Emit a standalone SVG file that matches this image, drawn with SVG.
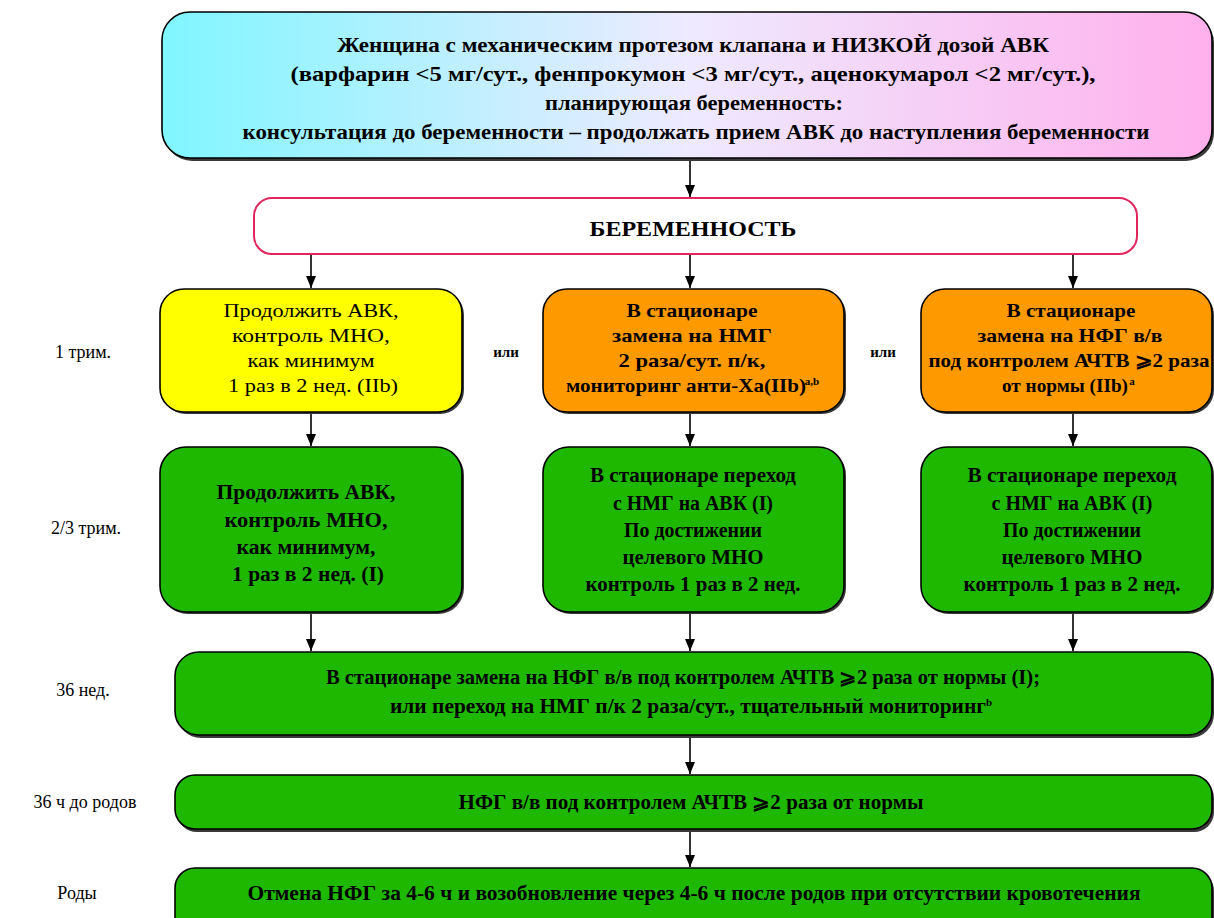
<svg xmlns="http://www.w3.org/2000/svg" width="1214" height="918" viewBox="0 0 1214 918">
<defs>
<linearGradient id="gTop" x1="0" y1="0" x2="1" y2="0">
<stop offset="0" stop-color="#7ff6ff"/>
<stop offset="0.5" stop-color="#eeeaff"/>
<stop offset="1" stop-color="#ffb0ec"/>
</linearGradient>
<marker id="arr" markerWidth="12" markerHeight="10" refX="12" refY="5" orient="auto" markerUnits="userSpaceOnUse" viewBox="0 0 12 10">
<path d="M0,0 L12,5 L0,10 Z" fill="#000"/>
</marker>
</defs>
<style>
.t{font-family:"Liberation Serif","Times New Roman",serif;fill:#000;text-anchor:middle}
.b{font-weight:bold}
.box{stroke:#000;stroke-width:1.6}
.sh{fill:#3a3a3a}
.lbl{font-family:"Liberation Serif","Times New Roman",serif;font-size:18px;fill:#000;text-anchor:middle}
.con{stroke:#000;stroke-width:1.6;fill:none;marker-end:url(#arr)}
.sup{font-size:11px}
</style>
<rect width="1214" height="918" fill="#fff"/>

<g id="labels">
<text class="lbl" x="83" y="358">1 трим.</text>
<text class="lbl" x="86" y="534">2/3 трим.</text>
<text class="lbl" x="83" y="696">36 нед.</text>
<text class="lbl" x="85" y="808">36 ч до родов</text>
<text class="lbl" x="77" y="899">Роды</text>
<text class="t b" x="506" y="357" font-size="15">или</text>
<text class="t b" x="883" y="357" font-size="15">или</text>
</g>

<g id="connectors">
<line class="con" x1="690" y1="158" x2="690" y2="197"/>
<line class="con" x1="311" y1="255" x2="311" y2="288"/>
<line class="con" x1="690" y1="255" x2="690" y2="288"/>
<line class="con" x1="1073" y1="255" x2="1073" y2="288"/>
<line class="con" x1="311" y1="413" x2="311" y2="446"/>
<line class="con" x1="690" y1="413" x2="690" y2="446"/>
<line class="con" x1="1073" y1="413" x2="1073" y2="446"/>
<line class="con" x1="311" y1="613" x2="311" y2="651"/>
<line class="con" x1="690" y1="613" x2="690" y2="651"/>
<line class="con" x1="1073" y1="613" x2="1073" y2="651"/>
<line class="con" x1="690" y1="736" x2="690" y2="774"/>
<line class="con" x1="690" y1="830" x2="690" y2="867"/>
</g>

<g id="n-top">
<rect class="sh" x="164" y="15" width="1050" height="146" rx="28"/>
<rect class="box" x="162" y="12" width="1050" height="146" rx="28" fill="url(#gTop)"/>
<text class="t b" font-size="21" x="693" y="52" textLength="712" lengthAdjust="spacingAndGlyphs">Женщина с механическим протезом клапана и НИЗКОЙ дозой АВК</text>
<text class="t b" font-size="21" x="693" y="81" textLength="805" lengthAdjust="spacingAndGlyphs">(варфарин &lt;5 мг/сут., фенпрокумон &lt;3 мг/сут., аценокумарол &lt;2 мг/сут.),</text>
<text class="t b" font-size="21" x="694" y="110" textLength="298" lengthAdjust="spacingAndGlyphs">планирующая беременность:</text>
<text class="t b" font-size="21" x="696" y="139" textLength="907" lengthAdjust="spacingAndGlyphs">консультация до беременности – продолжать прием АВК до наступления беременности</text>
</g>

<g id="n-preg">
<rect x="254" y="198" width="883" height="56" rx="18" fill="#fff" stroke="#e2245a" stroke-width="2"/>
<text class="t b" font-size="21" x="693" y="236" textLength="207" lengthAdjust="spacingAndGlyphs">БЕРЕМЕННОСТЬ</text>
</g>

<g id="n-y1">
<rect class="sh" x="162" y="291" width="302" height="123" rx="24"/>
<rect class="box" x="160" y="289" width="302" height="123" rx="24" fill="#ffff00"/>
<text class="t" font-size="19" x="311" y="317" textLength="175" lengthAdjust="spacingAndGlyphs">Продолжить АВК,</text>
<text class="t" font-size="19" x="311" y="342" textLength="158" lengthAdjust="spacingAndGlyphs">контроль МНО,</text>
<text class="t" font-size="19" x="311" y="367" textLength="127" lengthAdjust="spacingAndGlyphs">как минимум</text>
<text class="t" font-size="19" x="313" y="392" textLength="170" lengthAdjust="spacingAndGlyphs">1 раз в 2 нед. (IIb)</text>
</g>

<g id="n-o1">
<rect class="sh" x="545" y="291" width="301" height="123" rx="24"/>
<rect class="box" x="543" y="289" width="301" height="123" rx="24" fill="#ff9900"/>
<text class="t b" font-size="19" x="692" y="317" textLength="131" lengthAdjust="spacingAndGlyphs">В стационаре</text>
<text class="t b" font-size="19" x="692" y="342" textLength="160" lengthAdjust="spacingAndGlyphs">замена на НМГ</text>
<text class="t b" font-size="19" x="692" y="367" textLength="147" lengthAdjust="spacingAndGlyphs">2 раза/сут. п/к,</text>
<text class="t b" font-size="19" x="686" y="392" textLength="240" lengthAdjust="spacingAndGlyphs">мониторинг анти-Xa(IIb)</text>
<text class="t b sup" x="812" y="385">a,b</text>
</g>

<g id="n-o2">
<rect class="sh" x="923" y="291" width="291" height="123" rx="24"/>
<rect class="box" x="921" y="289" width="291" height="123" rx="24" fill="#ff9900"/>
<text class="t b" font-size="19" x="1071" y="317" textLength="129" lengthAdjust="spacingAndGlyphs">В стационаре</text>
<text class="t b" font-size="19" x="1070" y="342" textLength="185" lengthAdjust="spacingAndGlyphs">замена на НФГ в/в</text>
<text class="t b" font-size="19" x="1069" y="367" textLength="281" lengthAdjust="spacingAndGlyphs">под контролем АЧТВ ⩾2 раза</text>
<text class="t b" font-size="19" x="1065" y="392" textLength="126" lengthAdjust="spacingAndGlyphs">от нормы (IIb)</text>
<text class="t b sup" x="1132" y="385">a</text>
</g>

<g id="n-g1">
<rect class="sh" x="162" y="449" width="302" height="165" rx="26"/>
<rect class="box" x="160" y="447" width="302" height="165" rx="26" fill="#1fb800"/>
<text class="t b" font-size="20" x="306" y="499" textLength="179" lengthAdjust="spacingAndGlyphs">Продолжить АВК,</text>
<text class="t b" font-size="20" x="306" y="527" textLength="163" lengthAdjust="spacingAndGlyphs">контроль МНО,</text>
<text class="t b" font-size="20" x="306" y="554" textLength="139" lengthAdjust="spacingAndGlyphs">как минимум,</text>
<text class="t b" font-size="20" x="308" y="581" textLength="152" lengthAdjust="spacingAndGlyphs">1 раз в 2 нед. (I)</text>
</g>

<g id="n-g2">
<rect class="sh" x="545" y="449" width="301" height="165" rx="26"/>
<rect class="box" x="543" y="447" width="301" height="165" rx="26" fill="#1fb800"/>
<text class="t b" font-size="20" x="693" y="482" textLength="206" lengthAdjust="spacingAndGlyphs">В стационаре переход</text>
<text class="t b" font-size="20" x="693" y="510" textLength="160" lengthAdjust="spacingAndGlyphs">с НМГ на АВК (I)</text>
<text class="t b" font-size="20" x="693" y="537" textLength="138" lengthAdjust="spacingAndGlyphs">По достижении</text>
<text class="t b" font-size="20" x="693" y="564" textLength="141" lengthAdjust="spacingAndGlyphs">целевого МНО</text>
<text class="t b" font-size="20" x="693" y="591" textLength="215" lengthAdjust="spacingAndGlyphs">контроль 1 раз в 2 нед.</text>
</g>

<g id="n-g3">
<rect class="sh" x="923" y="449" width="291" height="165" rx="26"/>
<rect class="box" x="921" y="447" width="291" height="165" rx="26" fill="#1fb800"/>
<text class="t b" font-size="20" x="1072" y="482" textLength="209" lengthAdjust="spacingAndGlyphs">В стационаре переход</text>
<text class="t b" font-size="20" x="1072" y="510" textLength="161" lengthAdjust="spacingAndGlyphs">с НМГ на АВК (I)</text>
<text class="t b" font-size="20" x="1072" y="537" textLength="138" lengthAdjust="spacingAndGlyphs">По достижении</text>
<text class="t b" font-size="20" x="1072" y="564" textLength="141" lengthAdjust="spacingAndGlyphs">целевого МНО</text>
<text class="t b" font-size="20" x="1072" y="591" textLength="217" lengthAdjust="spacingAndGlyphs">контроль 1 раз в 2 нед.</text>
</g>

<g id="n-36w">
<rect class="sh" x="177" y="655" width="1037" height="83" rx="24"/>
<rect class="box" x="175" y="652" width="1037" height="83" rx="24" fill="#1fb800"/>
<text class="t b" font-size="20" x="683" y="684" textLength="714" lengthAdjust="spacingAndGlyphs">В стационаре замена на НФГ в/в под контролем АЧТВ ⩾2 раза от нормы (I);</text>
<text class="t b" font-size="20" x="688" y="713" textLength="596" lengthAdjust="spacingAndGlyphs">или переход на НМГ п/к 2 раза/сут., тщательный мониторинг</text>
<text class="t b sup" x="989" y="706">b</text>
</g>

<g id="n-36h">
<rect class="sh" x="177" y="778" width="1037" height="54" rx="20"/>
<rect class="box" x="175" y="775" width="1037" height="54" rx="20" fill="#1fb800"/>
<text class="t b" font-size="20" x="691" y="809" textLength="465" lengthAdjust="spacingAndGlyphs">НФГ в/в под контролем АЧТВ ⩾2 раза от нормы</text>
</g>

<g id="n-birth">
<rect class="sh" x="177" y="871" width="1037" height="70" rx="20"/>
<rect class="box" x="175" y="868" width="1037" height="70" rx="20" fill="#1fb800"/>
<text class="t b" font-size="20" x="694" y="900" textLength="893" lengthAdjust="spacingAndGlyphs">Отмена НФГ за 4-6 ч и возобновление через 4-6 ч после родов при отсутствии кровотечения</text>
</g>
</svg>
